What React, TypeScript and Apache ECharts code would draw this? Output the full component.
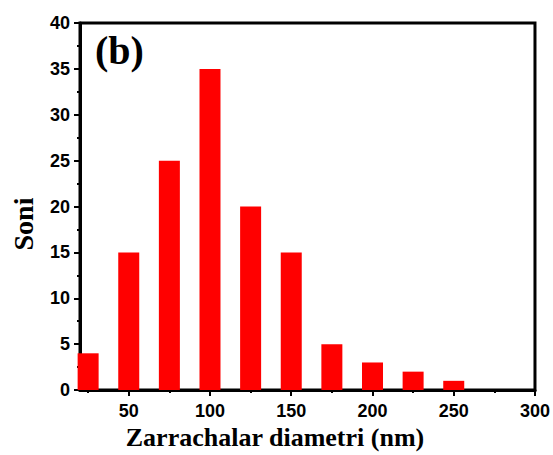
import React, { useEffect, useRef } from "react";
import * as echarts from "echarts";

const binCenters = [25, 50, 75, 100, 125, 150, 175, 200, 225, 250];
const counts = [4, 15, 25, 35, 20, 15, 5, 3, 2, 1];
const xMajorTicks = [50, 100, 150, 200, 250, 300];
const xMinorTicks = [25, 75, 125, 175, 225, 275];
const xTitle = "Zarrachalar diametri (nm)";
const yTitle = "Soni";
const panelLabel = "(b)";

export default function App() {
  const ref = useRef<HTMLDivElement>(null);
  useEffect(() => {
    document.body.style.margin = "0";
    const chart = echarts.init(ref.current!, null, { renderer: "svg" });
    const labelFont = {
      color: "#000",
      fontFamily: "Liberation Sans, Arial, sans-serif",
      fontWeight: "bold" as const,
      fontSize: 18,
    };
    chart.setOption({
      animation: false,
      grid: {
        left: 80,
        top: 23,
        right: 16,
        bottom: 65,
        show: true,
        borderColor: "#000",
        borderWidth: 3,
        backgroundColor: "transparent",
      },
      xAxis: [
        {
          type: "value",
          min: 20,
          max: 300,
          axisLine: { show: true, lineStyle: { color: "#000", width: 3 } },
          axisTick: {
            show: true,
            customValues: xMajorTicks,
            length: 6,
            lineStyle: { color: "#000", width: 2 },
          },
          axisLabel: { ...labelFont, customValues: xMajorTicks, margin: 12 },
          splitLine: { show: false },
        },
        {
          type: "value",
          min: 20,
          max: 300,
          position: "bottom",
          axisLine: { show: false },
          axisTick: {
            show: true,
            customValues: xMinorTicks,
            length: 3,
            lineStyle: { color: "#000", width: 2 },
          },
          axisLabel: { show: false },
          splitLine: { show: false },
        },
      ],
      yAxis: {
        type: "value",
        min: 0,
        max: 40,
        interval: 5,
        axisLine: { show: true, lineStyle: { color: "#000", width: 3 } },
        axisTick: { show: true, length: 6, lineStyle: { color: "#000", width: 2 } },
        minorTick: { show: true, splitNumber: 2, length: 3, lineStyle: { color: "#000", width: 2 } },
        axisLabel: { ...labelFont, margin: 10 },
        splitLine: { show: false },
      },
      series: [
        {
          type: "bar",
          xAxisIndex: 0,
          data: binCenters.map((c, i) => [c, counts[i]]),
          barWidth: 21,
          itemStyle: { color: "#ff0000" },
          clip: true,
        },
      ],
      graphic: [
        {
          type: "text",
          left: 95,
          top: 30,
          style: {
            text: panelLabel,
            fill: "#000",
            font: "bold 40px 'Liberation Serif', 'Times New Roman', serif",
          },
        },
        {
          type: "text",
          x: 275,
          y: 437,
          style: {
            text: xTitle,
            fill: "#000",
            font: "bold 26px 'Liberation Serif', 'Times New Roman', serif",
            textAlign: "center",
            textVerticalAlign: "middle",
          },
        },
        {
          type: "text",
          x: 23,
          y: 224,
          rotation: Math.PI / 2,
          style: {
            text: yTitle,
            fill: "#000",
            font: "bold 28px 'Liberation Serif', 'Times New Roman', serif",
            textAlign: "center",
            textVerticalAlign: "middle",
          },
        },
      ],
    });
    return () => chart.dispose();
  }, []);
  return <div ref={ref} style={{ width: 553, height: 455 }} />;
}
